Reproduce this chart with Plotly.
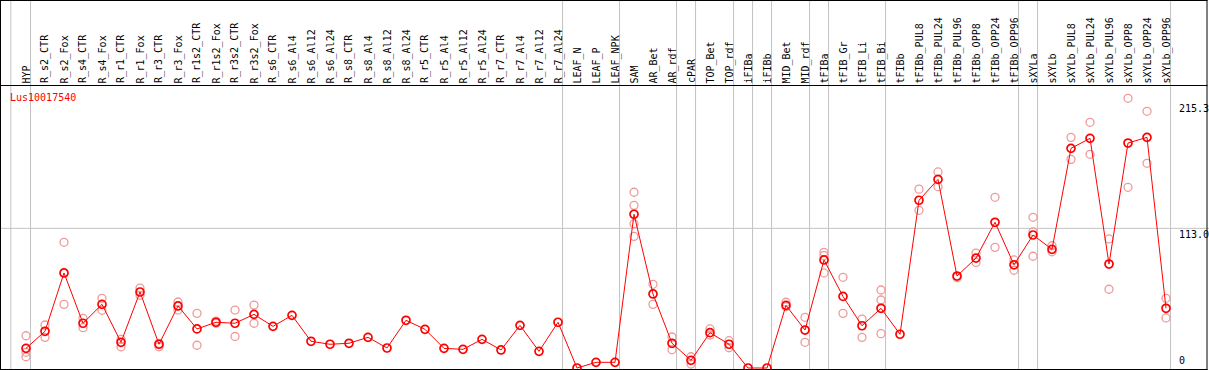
import plotly.graph_objects as go

categories = [
    "HYP", "R_s2_CTR", "R_s2_Fox", "R_s4_CTR", "R_s4_Fox", "R_r1_CTR", "R_r1_Fox",
    "R_r3_CTR", "R_r3_Fox", "R_r1s2_CTR", "R_r1s2_Fox", "R_r3s2_CTR", "R_r3s2_Fox",
    "R_s6_CTR", "R_s6_Al4", "R_s6_Al12", "R_s6_Al24", "R_s8_CTR", "R_s8_Al4",
    "R_s8_Al12", "R_s8_Al24", "R_r5_CTR", "R_r5_Al4", "R_r5_Al12", "R_r5_Al24",
    "R_r7_CTR", "R_r7_Al4", "R_r7_Al12", "R_r7_Al24", "LEAF_N", "LEAF_P", "LEAF_NPK",
    "SAM", "AR_Bet", "AR_rdf", "cPAR", "TOP_Bet", "TOP_rdf", "iFIBa", "iFIBb",
    "MID_Bet", "MID_rdf", "tFIBa", "tFIB_Gr", "tFIB_Li", "tFIB_Bi", "tFIBb",
    "tFIBb_PUL8", "tFIBb_PUL24", "tFIBb_PUL96", "tFIBb_OPP8", "tFIBb_OPP24",
    "tFIBb_OPP96", "sXYLa", "sXYLb", "sXYLb_PUL8", "sXYLb_PUL24", "sXYLb_PUL96",
    "sXYLb_OPP8", "sXYLb_OPP24", "sXYLb_OPP96",
]

mean_values = [
    15.9, 29.7, 76.9, 36.2, 51.5, 20.8, 61.5, 19.2, 50.2, 31.6, 37.0, 36.2, 43.4,
    33.7, 42.6, 21.6, 19.2, 20.0, 24.8, 16.2, 38.6, 31.3, 15.9, 15.1, 23.2, 14.6,
    34.5, 13.5, 37.0, 0.0, 4.6, 4.6, 124.4, 59.9, 20.0, 6.2, 28.6, 19.2, 0.0, 0.0,
    50.7, 30.7, 87.4, 57.9, 34.2, 48.3, 27.3, 135.7, 152.6, 74.4, 88.9, 117.9,
    83.5, 107.6, 96.0, 177.7, 185.8, 84.1, 182.0, 186.6, 48.3,
]

replicate_values = [
    [26.1, 12.7, 9.1], [34.8, 24.8], [101.7, 51.5], [40.2, 32.6], [56.4, 46.7],
    [23.2, 17.2], [64.7, 58.8], [17.2, 19.9], [53.4, 46.9], [44.2, 18.4],
    [38.0, 36.2], [46.9, 25.5], [50.9, 36.2], [], [], [], [], [], [], [], [], [],
    [], [], [], [], [], [], [], [], [], [],
    [142.2, 131.6, 116.7, 106.5], [67.7, 51.5], [25.1, 14.8], [9.1, 3.2],
    [31.6, 26.7], [22.1, 16.4], [], [], [53.2, 49.6], [41.0, 20.8],
    [93.6, 90.9, 76.9], [73.4, 44.2], [39.6, 24.8], [63.1, 55.0, 27.8], [],
    [144.7, 127.6], [158.6, 146.7], [73.1], [93.0, 85.4], [138.1, 97.6],
    [87.4, 79.1], [121.9, 110.2, 90.4], [98.9, 94.0], [186.6, 168.8],
    [198.8, 172.9], [104.4, 63.7], [218.2, 146.2], [207.7, 165.6], [56.4, 40.5],
]

group_sizes = [1, 28, 3, 3, 1, 2, 1, 1, 2, 1, 3, 7, 1, 7]

gene_name = "Lus10017540"
y_tick_values = [215.3, 113.0, 0]
y_tick_labels = ["215.3", "113.0", "0"]

W, H = 1209, 370
X0, DX = 26.0, 19.0          # pixel of first category, pixel step
Y0, DY = 368.0, 1.236        # pixel of zero, pixels per unit


def px_to_x(p):
    return (p - X0) / DX


def py_to_paper(p):
    return 1 - p / H


xs = list(range(len(categories)))
rep_x, rep_y = [], []
for i, reps in enumerate(replicate_values):
    for v in reps:
        rep_x.append(i)
        rep_y.append(v)

mono = "DejaVu Sans Mono"
fig = go.Figure()
fig.add_trace(go.Scatter(
    x=rep_x, y=rep_y, mode="markers",
    marker=dict(symbol="circle-open", size=8, color="#ef9a9a",
                line=dict(width=1.3, color="#ef9a9a")),
    hoverinfo="skip", showlegend=False,
))
fig.add_trace(go.Scatter(
    x=xs, y=mean_values, mode="lines+markers",
    line=dict(color="#ff0000", width=1),
    marker=dict(symbol="circle-open", size=8, color="#ff0000",
                line=dict(width=1.7, color="#ff0000")),
    showlegend=False,
))

shapes = []
grid = "#c3c3c3"
ends = []
acc = -1
for g in group_sizes:
    acc += g
    ends.append(acc)
sep_positions = [-0.8] + [e + 0.24 for e in ends]
for s in sep_positions:
    shapes.append(dict(type="line", xref="x", yref="paper", x0=s, x1=s, y0=0, y1=1,
                       line=dict(color=grid, width=1), layer="below"))
shapes.append(dict(type="line", xref="paper", yref="y", x0=0, x1=1,
                   y0=y_tick_values[1], y1=y_tick_values[1],
                   line=dict(color=grid, width=1), layer="below"))
blk = dict(color="black", width=1)
for yp in [0.5, 85.5, 369.5]:
    shapes.append(dict(type="line", xref="paper", yref="paper", x0=0, x1=1207.5 / W,
                       y0=py_to_paper(yp), y1=py_to_paper(yp), line=blk))
for xp in [0.5, 1207.0]:
    shapes.append(dict(type="line", xref="paper", yref="paper", x0=xp / W, x1=xp / W,
                       y0=0, y1=1, line=blk))

annotations = []
for i, c in enumerate(categories):
    annotations.append(dict(
        x=i, xref="x", y=py_to_paper(84.5), yref="paper", text=c, showarrow=False,
        textangle=-90, xanchor="center", yanchor="bottom",
        font=dict(family=mono, size=10, color="black"), borderpad=0,
    ))
annotations.append(dict(
    x=8.5 / W, xref="paper", y=py_to_paper(97), yref="paper", text=gene_name,
    showarrow=False, xanchor="left", yanchor="middle",
    font=dict(family=mono, size=10, color="#ff0000"), borderpad=0,
))
for v, t in zip(y_tick_values, y_tick_labels):
    if v == 0:
        ypx, ya = 366.5, "bottom"
    else:
        ypx, ya = Y0 - v * DY, "top"
    annotations.append(dict(
        x=1177.5 / W, xref="paper", y=py_to_paper(ypx), yref="paper", text=t,
        showarrow=False, xanchor="left", yanchor=ya,
        font=dict(family=mono, size=10, color="black"), borderpad=0,
    ))

fig.update_layout(
    width=W, height=H,
    margin=dict(l=0, r=0, t=0, b=0, pad=0),
    paper_bgcolor="white", plot_bgcolor="white",
    xaxis=dict(visible=False, range=[px_to_x(0), px_to_x(W)], fixedrange=True),
    yaxis=dict(visible=False, range=[(Y0 - H) / DY, Y0 / DY], fixedrange=True),
    shapes=shapes, annotations=annotations,
)

fig.write_html(
    "out.html",
    config={"displayModeBar": False},
    post_script="document.body.style.margin='0';document.body.style.overflow='hidden';",
)
